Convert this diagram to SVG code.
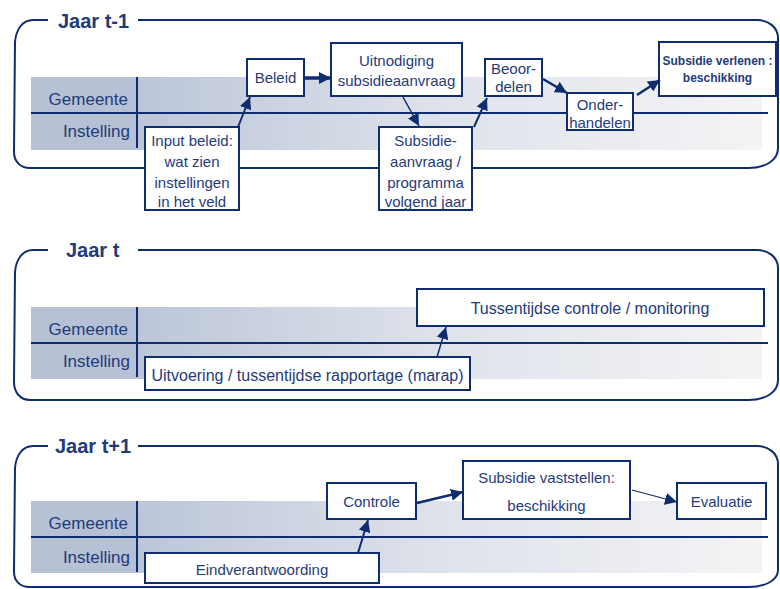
<svg xmlns="http://www.w3.org/2000/svg" width="780" height="589" viewBox="0 0 780 589">
<defs>
<linearGradient id="band" x1="0" y1="0" x2="1" y2="0">
<stop offset="0" stop-color="#bcc6d9"/>
<stop offset="0.5" stop-color="#dfe3eb"/>
<stop offset="1" stop-color="#f4f4f5"/>
</linearGradient>
<marker id="ah" markerUnits="userSpaceOnUse" markerWidth="14" markerHeight="12" refX="12" refY="6" orient="auto">
<path d="M0,0 L12,6 L0,12 Z" fill="#0e2d6e"/>
</marker>
</defs>
<style>
.frame{fill:none;stroke:#0e2d6e;stroke-width:2}
.lane{stroke:#0e2d6e;stroke-width:2}
.box{fill:#fff;stroke:#0e2d6e;stroke-width:2}
.t{font-family:"Liberation Sans",Arial,sans-serif;font-size:15px;fill:#1f3b7a;text-anchor:middle}
.lbl{font-family:"Liberation Sans",Arial,sans-serif;font-size:17px;fill:#1f3b7a;text-anchor:end}
.title{font-family:"Liberation Sans",Arial,sans-serif;font-size:20px;font-weight:bold;fill:#1f3b7a}
.b{font-weight:bold;font-size:12px}
.arr{fill:none;stroke:#0e2d6e;stroke-width:2;marker-end:url(#ah)}
</style>

<!-- Panel 1 -->
<g id="panel1">
<rect x="137" y="77" width="625" height="73" fill="url(#band)"/>
<rect x="31" y="77" width="106" height="73" fill="#b6c1d5"/>
<line class="lane" x1="31" y1="113" x2="768" y2="113"/>
<line class="lane" x1="137" y1="77" x2="137" y2="148"/>
<path class="frame" d="M48,20 L33,20 C22,20 16,30 15,42 L14,152 C14,161 20,168 30,168 L748,168 C766,168 778,160 778,148 L778,38 C778,27 768,20 757,20 L138,20"/>
<text class="title" x="58" y="28">Jaar t-1</text>
<text class="lbl" x="128" y="105">Gemeente</text>
<text class="lbl" x="130" y="137">Instelling</text>
</g>

<!-- Panel 2 -->
<g id="panel2">
<rect x="137" y="307" width="625" height="72" fill="url(#band)"/>
<rect x="31" y="307" width="106" height="72" fill="#b6c1d5"/>
<line class="lane" x1="31" y1="343" x2="768" y2="343"/>
<line class="lane" x1="137" y1="307" x2="137" y2="377"/>
<path class="frame" d="M48,250 L33,250 C22,250 16,260 15,272 L14,382 C14,392 20,400 30,400 L748,400 C766,400 778,392 778,380 L778,268 C778,257 768,250 757,250 L138,250"/>
<text class="title" x="66" y="257">Jaar t</text>
<text class="lbl" x="128" y="335">Gemeente</text>
<text class="lbl" x="130" y="367">Instelling</text>
</g>

<!-- Panel 3 -->
<g id="panel3">
<rect x="137" y="501" width="625" height="72" fill="url(#band)"/>
<rect x="31" y="501" width="106" height="72" fill="#b6c1d5"/>
<line class="lane" x1="31" y1="537" x2="768" y2="537"/>
<line class="lane" x1="137" y1="501" x2="137" y2="572"/>
<path class="frame" d="M48,446 L33,446 C22,446 16,456 15,468 L14,572 C14,581 20,587 30,587 L748,587 C766,587 778,580 778,570 L778,464 C778,453 768,446 757,446 L138,446"/>
<text class="title" x="55" y="453">Jaar t+1</text>
<text class="lbl" x="128" y="529">Gemeente</text>
<text class="lbl" x="130" y="563">Instelling</text>
</g>

<!-- Nodes panel 1 -->
<g id="beleid"><rect class="box" x="247" y="59" width="57" height="37"/><text class="t" x="275.5" y="83">Beleid</text></g>
<g id="uitnodiging"><rect class="box" x="331" y="43" width="131" height="53"/><text class="t" x="396.5" y="66">Uitnodiging</text><text class="t" x="396.5" y="86">subsidieaanvraag</text></g>
<g id="inputbeleid"><rect class="box" x="145" y="127" width="94" height="83"/><text class="t" x="192" y="146">Input beleid:</text><text class="t" x="192" y="167">wat zien</text><text class="t" x="192" y="188">instellingen</text><text class="t" x="192" y="207">in het veld</text></g>
<g id="subsidieaanvraag"><rect class="box" x="379" y="127" width="93" height="83"/><text class="t" x="425.5" y="146">Subsidie-</text><text class="t" x="425.5" y="167">aanvraag /</text><text class="t" x="425.5" y="188">programma</text><text class="t" x="425.5" y="207">volgend jaar</text></g>
<g id="beoordelen"><rect class="box" x="485" y="59" width="57" height="37"/><text class="t" x="513.5" y="74">Beoor-</text><text class="t" x="513.5" y="92">delen</text></g>
<g id="onderhandelen"><rect class="box" x="567" y="93" width="66" height="37"/><text class="t" x="600" y="110">Onder-</text><text class="t" x="600" y="128">handelen</text></g>
<g id="verlenen"><rect class="box" x="659" y="42" width="117" height="54"/><text class="t b" x="717.5" y="65">Subsidie verlenen :</text><text class="t b" x="717.5" y="82">beschikking</text></g>

<!-- Nodes panel 2 -->
<g id="tussentijdse"><rect class="box" x="417" y="289" width="347" height="37"/><text class="t" x="590" y="314" style="font-size:16px">Tussentijdse controle / monitoring</text></g>
<g id="uitvoering"><rect class="box" x="145" y="357" width="325" height="33"/><text class="t" x="307.5" y="381" style="font-size:16px">Uitvoering / tussentijdse rapportage (marap)</text></g>

<!-- Nodes panel 3 -->
<g id="controle"><rect class="box" x="327" y="483" width="89" height="36"/><text class="t" x="371.5" y="507">Controle</text></g>
<g id="eindverantwoording"><rect class="box" x="145" y="553" width="234" height="30"/><text class="t" x="262" y="575">Eindverantwoording</text></g>
<g id="vaststellen"><rect class="box" x="463" y="461" width="167" height="58"/><text class="t" x="546.5" y="483">Subsidie vaststellen:</text><text class="t" x="546.5" y="511">beschikking</text></g>
<g id="evaluatie"><rect class="box" x="677" y="483" width="89" height="36"/><text class="t" x="721.5" y="507">Evaluatie</text></g>

<!-- Connectors -->
<g id="connectors">
<path class="arr" d="M238,127 L250,97"/>
<path class="arr" d="M305,78 L331,78" style="stroke-width:3.5"/>
<path class="arr" d="M403,97 L419,126" style="stroke-width:1.5"/>
<path class="arr" d="M474,127 L487,98"/>
<path class="arr" d="M543,79 L567,93" style="stroke-width:2.5"/>
<path class="arr" d="M637,95 L660,80" style="stroke-width:2.5"/>
<path class="arr" d="M437,357 L446,327" style="stroke-width:1.5"/>
<path class="arr" d="M358,553 L368,520"/>
<path class="arr" d="M417,503 L463,492" style="stroke-width:2.5"/>
<path class="arr" d="M632,490 L677,502" style="stroke-width:1.2"/>
</g>
</svg>
